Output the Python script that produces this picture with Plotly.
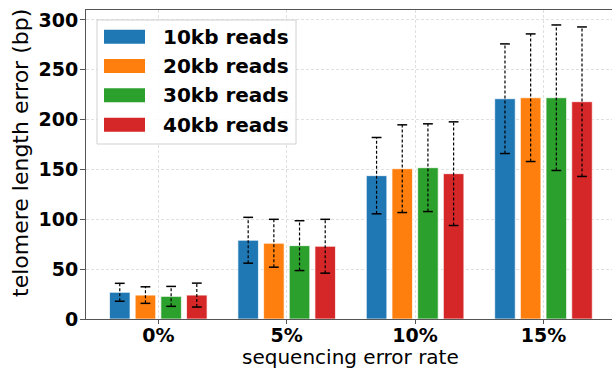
import plotly.graph_objects as go

categories = ["0%", "5%", "10%", "15%"]
series_names = ["10kb reads", "20kb reads", "30kb reads", "40kb reads"]
colors = ["#1f77b4", "#ff7f0e", "#2ca02c", "#d62728"]

means = {
    "10kb reads": [26.8, 79, 143.8, 221],
    "20kb reads": [24, 76, 150.8, 222],
    "30kb reads": [22.7, 73.6, 151.8, 222],
    "40kb reads": [24, 73, 145.8, 218],
}
errors = {
    "10kb reads": [9, 23, 38.3, 55],
    "20kb reads": [8.3, 24, 44, 64],
    "30kb reads": [10, 25, 44, 73],
    "40kb reads": [12, 27, 52, 75],
}
y_ticks = [0, 50, 100, 150, 200, 250, 300]

W, H = 612, 370
ML, MR, MT, MB = 86, 0, 10, 51
PW, PH = W - ML - MR, H - MT - MB

group_width = 0.8
n = len(series_names)
step = group_width / n
bar_w = step * 0.8

fig = go.Figure()
for i, name in enumerate(series_names):
    off = -group_width / 2 + step * (i + 0.5)
    xs = [k + off for k in range(len(categories))]
    fig.add_trace(go.Bar(
        x=xs, y=means[name], width=bar_w, name=name,
        marker=dict(color=colors[i], line=dict(color="rgba(255,255,255,0.7)", width=1)),
        showlegend=False,
    ))
for i, name in enumerate(series_names):
    off = -group_width / 2 + step * (i + 0.5)
    ex, ey = [], []
    for k in range(len(categories)):
        x = k + off
        lo = means[name][k] - errors[name][k]
        hi = means[name][k] + errors[name][k]
        ex += [x, x, None]
        ey += [lo, hi, None]
    fig.add_trace(go.Scatter(
        x=ex, y=ey, mode="lines+markers",
        line=dict(color="black", width=1.2, dash="3px,2px"),
        marker=dict(symbol="line-ew", size=7, line=dict(color="black", width=1.5)),
        showlegend=False, hoverinfo="skip",
    ))

def px2x(px):
    return (px - ML) / PW

def py2y(py):
    return (H - MB - py) / PH

shapes = [dict(type="rect", xref="paper", yref="paper",
               x0=px2x(97), x1=px2x(296), y0=py2y(144), y1=py2y(20),
               line=dict(color="#d0d0d0", width=1), fillcolor="rgba(255,255,255,0.85)",
               layer="above")]
annotations = []
centers = [36.7, 66, 95.3, 124.7]
for i, name in enumerate(series_names):
    cy = centers[i]
    shapes.append(dict(type="rect", xref="paper", yref="paper",
                       x0=px2x(104), x1=px2x(145), y0=py2y(cy + 7), y1=py2y(cy - 7),
                       line=dict(width=0), fillcolor=colors[i], layer="above"))
    annotations.append(dict(xref="paper", yref="paper", x=px2x(161), y=py2y(cy),
                            xanchor="left", yanchor="middle", showarrow=False,
                            text="<b>" + name + "</b>",
                            font=dict(family="DejaVu Sans", size=20, color="black")))

# axis titles
annotations.append(dict(xref="paper", yref="paper", x=px2x(350), y=py2y(357),
                        xanchor="center", yanchor="middle", showarrow=False,
                        text="sequencing error rate",
                        font=dict(family="DejaVu Sans", size=20, color="black")))
annotations.append(dict(xref="paper", yref="paper", x=px2x(20), y=py2y(153),
                        xanchor="center", yanchor="middle", showarrow=False, textangle=-90,
                        text="telomere length error (bp)",
                        font=dict(family="DejaVu Sans", size=22, color="black")))

fig.update_layout(
    width=W, height=H,
    margin=dict(l=ML, r=MR, t=MT, b=MB, autoexpand=False),
    plot_bgcolor="white", paper_bgcolor="white",
    barmode="overlay",
    font=dict(family="DejaVu Sans", color="black"),
    shapes=shapes, annotations=annotations,
    xaxis=dict(
        range=[-0.563, -0.563 + PW / 128.4],
        tickmode="array", tickvals=list(range(len(categories))),
        ticktext=["<b>" + c + "</b>" for c in categories],
        tickfont=dict(size=19, family="DejaVu Sans"),
        ticks="outside", ticklen=4, tickcolor="#555",
        ticklabelstandoff=-5,
        showgrid=True, gridcolor="#e0e0e0", griddash="3px,2px", gridwidth=1,
        showline=True, linecolor="#555", linewidth=1, mirror=True,
        zeroline=False, automargin=False,
    ),
    yaxis=dict(
        range=[0, 310],
        tickmode="array", tickvals=y_ticks,
        ticktext=["<b>" + str(v) + "</b>" for v in y_ticks],
        tickfont=dict(size=19, family="DejaVu Sans"),
        ticks="outside", ticklen=5, tickcolor="#555",
        ticklabelstandoff=-2,
        showgrid=True, gridcolor="#e0e0e0", griddash="3px,2px", gridwidth=1,
        showline=True, linecolor="#555", linewidth=1, mirror=False,
        zeroline=False, automargin=False,
    ),
)

fig.write_html("out.html", config={"displayModeBar": False},
               post_script="document.body.style.margin='0';document.body.style.overflow='hidden';")
